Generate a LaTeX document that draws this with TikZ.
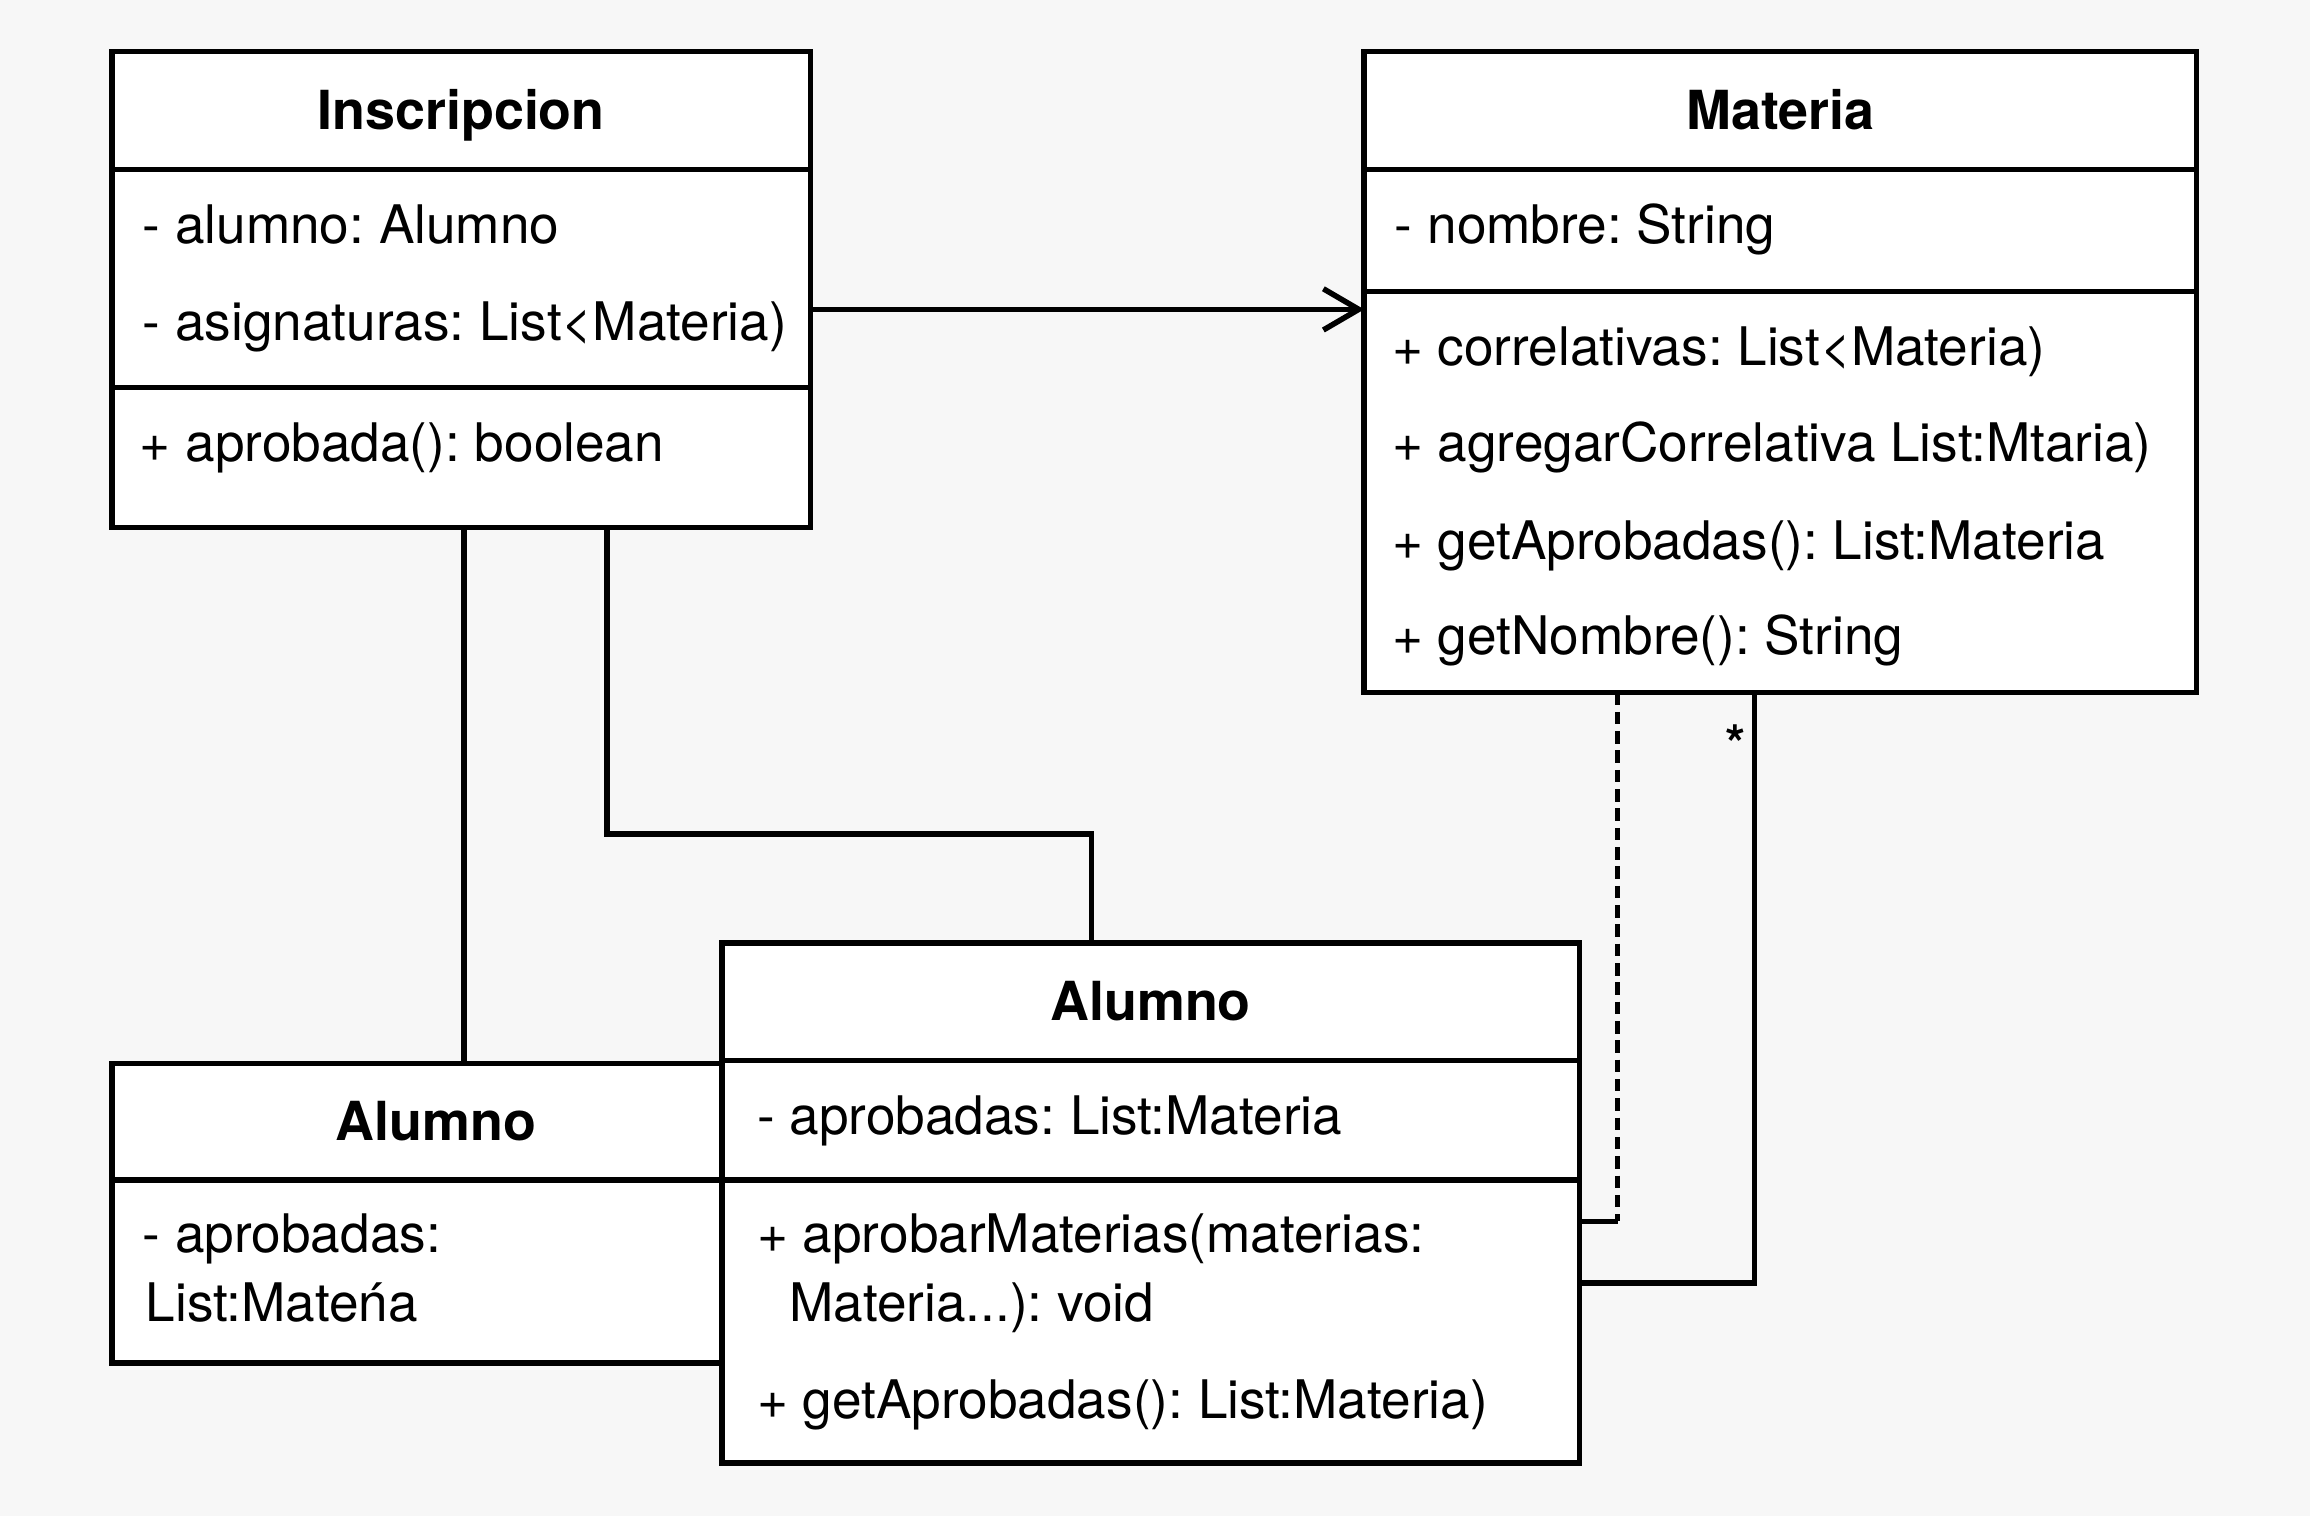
\documentclass[tikz,border=0pt]{standalone}
\usepackage{fontspec}
\setmainfont{TeX Gyre Heros}
\usetikzlibrary{arrows.meta}
\frenchspacing

\definecolor{paper}{RGB}{247,247,247}

\tikzset{
  classpart/.style={draw, fill=white, rectangle, anchor=north west, inner sep=0pt, outer sep=0pt},
  classname/.style={classpart, font=\bfseries\fontsize{15.6}{18}\selectfont, text height=11pt, text depth=0pt},
  member/.style={anchor=base west, inner sep=0pt, font=\fontsize{15.4}{18}\selectfont},
}

\begin{document}
\begin{tikzpicture}[x=0.015cm, y=-0.015cm, line width=1.6pt, >={Straight Barb[length=0.36cm, width=0.42cm]}]
    % Background
    \fill[paper] (0,0) rectangle (1568,1029);

    % Alumno box (left, partly hidden)
    \node[classname, minimum width=6.6cm, minimum height=1.185cm] (alumA-head) at (76,722) {Alumno};
    \node[classpart, minimum width=6.6cm, minimum height=1.86cm] (alumA-attr) at (76,801) {};
    \node[member] (alumA-m1) at (95,850) {- aprobadas:};
    \node[member] (alumA-m2) at (97,897) {List:Mateńa};

    % Alumno box (right)
    \node[classname, minimum width=8.73cm, minimum height=1.2cm] (alumB-head) at (490,640) {Alumno};
    \node[classpart, minimum width=8.73cm, minimum height=1.215cm] (alumB-attr) at (490,720) {};
    \node[classpart, minimum width=8.73cm, minimum height=2.88cm] (alumB-ops) at (490,801) {};
    \node[member] (alumB-m1) at (512,770) {- aprobadas: List:Materia};
    \node[member] (alumB-m2) at (512,850) {+ aprobarMaterias(materias:};
    \node[member] (alumB-m3) at (534,897) {Materia...): void};
    \node[member] (alumB-m4) at (512,963) {+ getAprobadas(): List:Materia)};

    % Inscripcion box
    \node[classname, minimum width=7.11cm, minimum height=1.2cm] (insc-head) at (76,35) {Inscripcion};
    \node[classpart, minimum width=7.11cm, minimum height=2.22cm] (insc-attr) at (76,115) {};
    \node[classpart, minimum width=7.11cm, minimum height=1.425cm] (insc-ops) at (76,263) {};
    \node[member] (insc-m1) at (95,165) {- alumno: Alumno};
    \node[member] (insc-m2) at (95,231) {- asignaturas: List\textless Materia)};
    \node[member] (insc-m3) at (93,313) {+ aprobada(): boolean};

    % Materia box
    \node[classname, minimum width=8.475cm, minimum height=1.2cm] (mat-head) at (926,35) {Materia};
    \node[classpart, minimum width=8.475cm, minimum height=1.245cm] (mat-attr) at (926,115) {};
    \node[classpart, minimum width=8.475cm, minimum height=4.08cm] (mat-ops) at (926,198) {};
    \node[member] (mat-m1) at (945,165) {- nombre: String};
    \node[member] (mat-m2) at (943,248) {+ correlativas: List\textless Materia)};
    \node[member] (mat-m3) at (943,313) {+ agregarCorrelativa List:Mtaria)};
    \node[member] (mat-m4) at (943,380) {+ getAprobadas(): List:Materia};
    \node[member] (mat-m5) at (943,444) {+ getNombre(): String};

    % Bend points
    \coordinate (lnkA) at (315,0);
    \coordinate (bendB) at (412,566);
    \coordinate (lnkB) at (741,0);
    \coordinate (bendC) at (1098,829);
    \coordinate (bendD) at (1191,871);
    \coordinate (arrowY) at (0,210);

    % Inscripcion to Materia
    \draw[->] (insc-attr.east |- arrowY) -- (mat-ops.west |- arrowY);

    % Inscripcion to Alumno (left)
    \draw (insc-ops.south -| lnkA) -- (alumA-head.north -| lnkA);

    % Inscripcion to Alumno (right)
    \draw (insc-ops.south -| bendB) -- (bendB) -| (alumB-head.north -| lnkB);

    % Materia to Alumno, dependency
    \draw[dash pattern=on 3.6pt off 2pt] (mat-ops.south -| bendC) -- (bendC);
    \draw (bendC) -- (alumB-ops.east |- bendC);

    % Materia to Alumno, many
    \draw (mat-ops.south -| bendD) |- (alumB-ops.east |- bendD);
    \node[font=\bfseries\fontsize{15}{18}\selectfont] (mult) at (1178,505) {*};
\end{tikzpicture}
\end{document}
